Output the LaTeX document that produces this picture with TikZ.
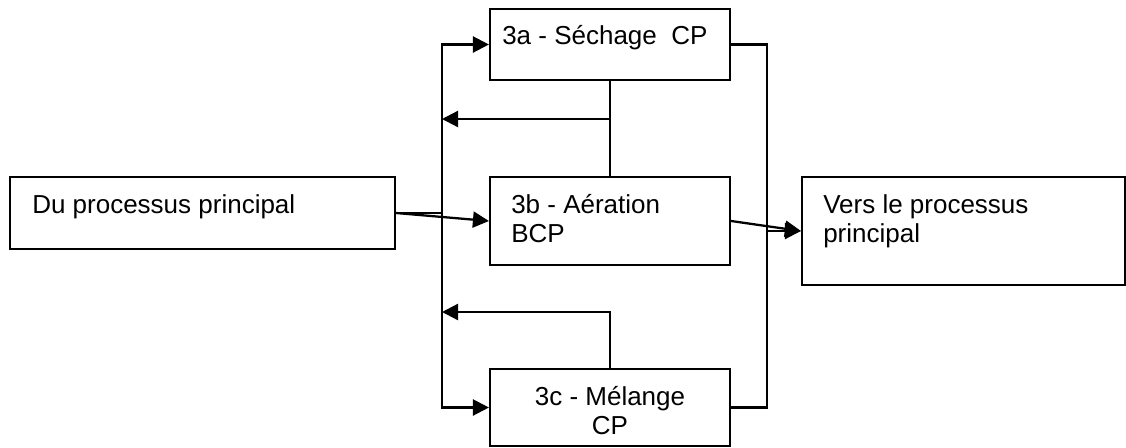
\documentclass[tikz,border=0pt]{standalone}
\usepackage{fontspec}
\setmainfont{Liberation Sans}
\usetikzlibrary{arrows.meta}
\begin{document}
\begin{tikzpicture}[x=0.75pt,y=-0.75pt,
  box/.style={draw,line width=1.6pt,inner sep=0pt},
  txt/.style={inner sep=0pt,font=\fontsize{19.5pt}{23pt}\selectfont},
  ln/.style={line width=1.7pt},
  arr/.style={line width=1.7pt,-{Triangle[length=12pt,width=12pt]}}]
\useasboundingbox (0,0) rectangle (1126,447);
% boxes
\node[box,minimum width=288.75pt,minimum height=54pt] (du) at (202.5,213) {};
\node[box,minimum width=180pt,minimum height=53.25pt] (a) at (610,44.5) {};
\node[box,minimum width=180pt,minimum height=66pt] (b) at (610,221) {};
\node[box,minimum width=180pt,minimum height=57.75pt] (c) at (610,407.5) {};
\node[box,minimum width=242.25pt,minimum height=81pt] (v) at (963.5,231) {};
% texts
\node[txt,anchor=base west] (tdu) at (32,213) {Du processus principal};
\node[txt,anchor=base west] (ta) at (502,44) {3a - Séchage\ \ CP};
\node[txt,anchor=base west] (tb1) at (511,213) {3b - Aération};
\node[txt,anchor=base west] (tb2) at (511,242) {BCP};
\node[txt,anchor=base] (tc1) at (610,405) {3c - Mélange};
\node[txt,anchor=base] (tc2) at (610,434) {CP};
\node[txt,anchor=base west] (tv1) at (823,213) {Vers le processus};
\node[txt,anchor=base west] (tv2) at (823,242) {principal};
% bus coordinates
\coordinate (lx) at (442,0);
\coordinate (rx) at (767,0);
\coordinate (fa) at (610,119);
\coordinate (fc) at (610,312);
% left bus
\draw[arr] (lx |- c.west) |- (a.west);
\draw[arr] (lx |- a.west) |- (c.west);
% feedbacks
\draw[ln] (a.south) -- (b.north);
\draw[arr] (fa) -- (lx |- fa);
\draw[arr] (c.north) -- (fc) -- (lx |- fc);
% right bus
\draw[ln] (a.east) -| (rx |- c.east) -- (c.east);
% input and output
\draw[ln] (du.east) -- (lx |- du.east);
\draw[arr] (du.east) -- (b.west);
\draw[arr] (b.east) -- (v.west);
\draw[arr] (rx |- v.west) -- (v.west);
\end{tikzpicture}
\end{document}
